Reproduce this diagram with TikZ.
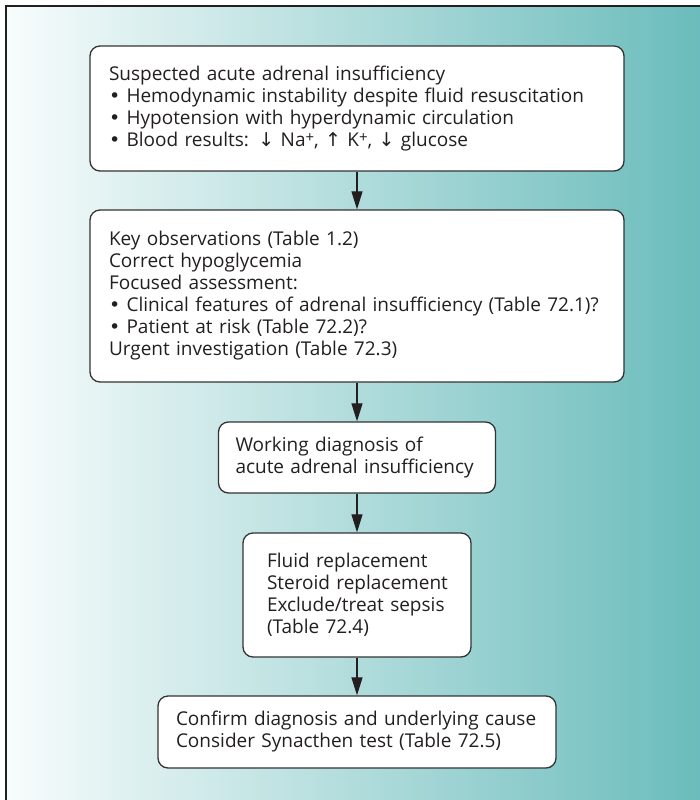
\documentclass[tikz,border=0pt]{standalone}
\usepackage{fontspec}
\setmainfont{Open Sans}
\newfontfamily\symfont{DejaVu Sans}
\usetikzlibrary{arrows.meta}
\definecolor{framecol}{HTML}{231F20}
\definecolor{bgleft}{HTML}{F8FCFC}
\definecolor{bgright}{HTML}{6BBCBC}
\definecolor{boxline}{HTML}{333333}
\definecolor{txt}{HTML}{231F20}
\newcommand{\dn}{{\symfont\char"2193}}
\newcommand{\up}{{\symfont\char"2191}}
\newcommand{\bul}{{\symfont\char"2022}}
\newcommand{\ion}{\raisebox{0.35ex}{\fontsize{15}{15}\selectfont+}}
\begin{document}
\begin{tikzpicture}[x=1pt,y=-1pt,
  box/.style={draw=boxline, line width=1.3pt, fill=white, rounded corners=10pt,
    align=left, inner ysep=0pt, text=txt, font=\fontsize{19}{22}\selectfont},
  arr/.style={draw=txt, line width=1.1pt, -{Triangle[length=18pt,width=11pt]}}
]
\useasboundingbox (0,0) rectangle (700,800);
% background panel with its frame on the left and top
\shade[left color=bgleft, right color=bgright] (6,6) rectangle (700,800);
\draw[framecol, line width=2pt] (6,800) -- (6,6) -- (700,6);

\node[box, minimum width=534pt, minimum height=125pt, text width=496pt] (b1) at (357,108.5)
  {Suspected acute adrenal insufficiency\\
   \mbox{\bul\ Hemodynamic instability despite fluid resuscitation}\\
   \bul\ Hypotension with hyperdynamic circulation\\
   \bul\ Blood results: \dn\ Na\ion, \up\ K\ion, \dn\ glucose};

\node[box, minimum width=534pt, minimum height=172pt, text width=496pt] (b2) at (357,296)
  {Key observations (Table 1.2)\\
   Correct hypoglycemia\\
   Focused assessment:\\
   \mbox{\bul\ Clinical features of adrenal insufficiency (Table 72.1)?}\\
   \bul\ Patient at risk (Table 72.2)?\\
   Urgent investigation (Table 72.3)};

\node[box, minimum width=277pt, minimum height=71pt, text width=243pt] (b3) at (357,457.5)
  {\mbox{Working diagnosis of}\\
   \mbox{acute adrenal insufficiency}};

\node[box, minimum width=228pt, minimum height=124pt, text width=180pt] (b4) at (357,595)
  {\mbox{Fluid replacement}\\
   \mbox{Steroid replacement}\\
   \mbox{Exclude/treat sepsis}\\
   \mbox{(Table 72.4)}};

\node[box, minimum width=398pt, minimum height=72pt, text width=362pt] (b5) at (357,732)
  {\mbox{Confirm diagnosis and underlying cause}\\
   \mbox{Consider Synacthen test (Table 72.5)}};

\draw[arr] (b1) -- (b2);
\draw[arr] (b2) -- (b3);
\draw[arr] (b3) -- (b4);
\draw[arr] (b4) -- (b5);
\end{tikzpicture}
\end{document}
